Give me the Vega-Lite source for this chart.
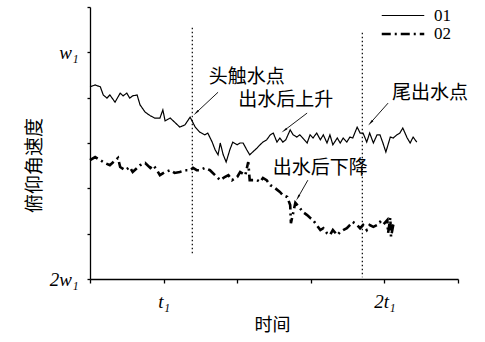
{
  "$schema": "https://vega.github.io/schema/vega-lite/v6.json",
  "width": 368,
  "height": 272,
  "autosize": "none",
  "padding": {"left": 90, "top": 7, "right": 27, "bottom": 63},
  "background": "white",
  "config": {
    "view": {"stroke": null},
    "axis": {"grid": false, "domainColor": "black", "tickColor": "black", "domainWidth": 1.3, "tickWidth": 1.3, "labelColor": "black", "titleColor": "black"}
  },
  "datasets": {
    "series": [
      {"x": 2.00, "y": 5.76, "series": "01"},
      {"x": 2.07, "y": 5.72, "series": "01"},
      {"x": 2.14, "y": 5.76, "series": "01"},
      {"x": 2.18, "y": 5.94, "series": "01"},
      {"x": 2.23, "y": 6.01, "series": "01"},
      {"x": 2.27, "y": 5.94, "series": "01"},
      {"x": 2.34, "y": 6.10, "series": "01"},
      {"x": 2.41, "y": 5.90, "series": "01"},
      {"x": 2.45, "y": 5.96, "series": "01"},
      {"x": 2.50, "y": 5.90, "series": "01"},
      {"x": 2.54, "y": 6.01, "series": "01"},
      {"x": 2.58, "y": 5.96, "series": "01"},
      {"x": 2.64, "y": 5.94, "series": "01"},
      {"x": 2.68, "y": 6.16, "series": "01"},
      {"x": 2.75, "y": 6.32, "series": "01"},
      {"x": 2.82, "y": 6.40, "series": "01"},
      {"x": 2.88, "y": 6.45, "series": "01"},
      {"x": 2.95, "y": 6.45, "series": "01"},
      {"x": 2.99, "y": 6.27, "series": "01"},
      {"x": 3.02, "y": 6.51, "series": "01"},
      {"x": 3.09, "y": 6.45, "series": "01"},
      {"x": 3.15, "y": 6.54, "series": "01"},
      {"x": 3.22, "y": 6.65, "series": "01"},
      {"x": 3.29, "y": 6.60, "series": "01"},
      {"x": 3.36, "y": 6.43, "series": "01"},
      {"x": 3.43, "y": 6.65, "series": "01"},
      {"x": 3.49, "y": 6.76, "series": "01"},
      {"x": 3.56, "y": 6.82, "series": "01"},
      {"x": 3.60, "y": 6.78, "series": "01"},
      {"x": 3.66, "y": 6.98, "series": "01"},
      {"x": 3.70, "y": 7.15, "series": "01"},
      {"x": 3.74, "y": 7.26, "series": "01"},
      {"x": 3.77, "y": 7.00, "series": "01"},
      {"x": 3.81, "y": 7.26, "series": "01"},
      {"x": 3.85, "y": 7.42, "series": "01"},
      {"x": 3.90, "y": 7.15, "series": "01"},
      {"x": 3.94, "y": 6.98, "series": "01"},
      {"x": 4.00, "y": 7.04, "series": "01"},
      {"x": 4.04, "y": 7.00, "series": "01"},
      {"x": 4.08, "y": 7.00, "series": "01"},
      {"x": 4.13, "y": 7.15, "series": "01"},
      {"x": 4.17, "y": 7.26, "series": "01"},
      {"x": 4.21, "y": 7.20, "series": "01"},
      {"x": 4.27, "y": 7.11, "series": "01"},
      {"x": 4.31, "y": 7.04, "series": "01"},
      {"x": 4.35, "y": 6.98, "series": "01"},
      {"x": 4.40, "y": 6.93, "series": "01"},
      {"x": 4.45, "y": 6.82, "series": "01"},
      {"x": 4.49, "y": 6.78, "series": "01"},
      {"x": 4.54, "y": 6.98, "series": "01"},
      {"x": 4.58, "y": 6.89, "series": "01"},
      {"x": 4.62, "y": 6.98, "series": "01"},
      {"x": 4.66, "y": 6.93, "series": "01"},
      {"x": 4.72, "y": 6.71, "series": "01"},
      {"x": 4.76, "y": 6.82, "series": "01"},
      {"x": 4.81, "y": 6.87, "series": "01"},
      {"x": 4.85, "y": 6.82, "series": "01"},
      {"x": 4.89, "y": 6.89, "series": "01"},
      {"x": 4.95, "y": 7.00, "series": "01"},
      {"x": 4.99, "y": 6.82, "series": "01"},
      {"x": 5.03, "y": 6.89, "series": "01"},
      {"x": 5.08, "y": 6.78, "series": "01"},
      {"x": 5.13, "y": 6.93, "series": "01"},
      {"x": 5.17, "y": 6.82, "series": "01"},
      {"x": 5.22, "y": 7.00, "series": "01"},
      {"x": 5.26, "y": 6.82, "series": "01"},
      {"x": 5.30, "y": 7.04, "series": "01"},
      {"x": 5.36, "y": 6.89, "series": "01"},
      {"x": 5.40, "y": 7.00, "series": "01"},
      {"x": 5.44, "y": 6.89, "series": "01"},
      {"x": 5.49, "y": 6.98, "series": "01"},
      {"x": 5.53, "y": 6.87, "series": "01"},
      {"x": 5.57, "y": 6.89, "series": "01"},
      {"x": 5.63, "y": 6.65, "series": "01"},
      {"x": 5.67, "y": 6.78, "series": "01"},
      {"x": 5.71, "y": 6.78, "series": "01"},
      {"x": 5.76, "y": 6.98, "series": "01"},
      {"x": 5.80, "y": 6.78, "series": "01"},
      {"x": 5.85, "y": 7.00, "series": "01"},
      {"x": 5.90, "y": 6.82, "series": "01"},
      {"x": 5.94, "y": 6.82, "series": "01"},
      {"x": 5.98, "y": 7.00, "series": "01"},
      {"x": 6.02, "y": 7.20, "series": "01"},
      {"x": 6.08, "y": 6.87, "series": "01"},
      {"x": 6.12, "y": 6.89, "series": "01"},
      {"x": 6.17, "y": 6.82, "series": "01"},
      {"x": 6.21, "y": 6.78, "series": "01"},
      {"x": 6.25, "y": 6.67, "series": "01"},
      {"x": 6.31, "y": 6.89, "series": "01"},
      {"x": 6.35, "y": 7.00, "series": "01"},
      {"x": 6.39, "y": 6.87, "series": "01"},
      {"x": 6.44, "y": 6.98, "series": "01"},
      {"x": 2.00, "y": 7.38, "series": "02"},
      {"x": 2.07, "y": 7.31, "series": "02"},
      {"x": 2.14, "y": 7.38, "series": "02"},
      {"x": 2.20, "y": 7.44, "series": "02"},
      {"x": 2.27, "y": 7.49, "series": "02"},
      {"x": 2.38, "y": 7.33, "series": "02"},
      {"x": 2.41, "y": 7.53, "series": "02"},
      {"x": 2.48, "y": 7.60, "series": "02"},
      {"x": 2.54, "y": 7.53, "series": "02"},
      {"x": 2.58, "y": 7.64, "series": "02"},
      {"x": 2.64, "y": 7.55, "series": "02"},
      {"x": 2.68, "y": 7.49, "series": "02"},
      {"x": 2.75, "y": 7.44, "series": "02"},
      {"x": 2.82, "y": 7.55, "series": "02"},
      {"x": 2.86, "y": 7.49, "series": "02"},
      {"x": 2.91, "y": 7.60, "series": "02"},
      {"x": 2.95, "y": 7.71, "series": "02"},
      {"x": 3.02, "y": 7.64, "series": "02"},
      {"x": 3.09, "y": 7.60, "series": "02"},
      {"x": 3.15, "y": 7.66, "series": "02"},
      {"x": 3.22, "y": 7.64, "series": "02"},
      {"x": 3.29, "y": 7.60, "series": "02"},
      {"x": 3.36, "y": 7.60, "series": "02"},
      {"x": 3.40, "y": 7.55, "series": "02"},
      {"x": 3.45, "y": 7.60, "series": "02"},
      {"x": 3.49, "y": 7.60, "series": "02"},
      {"x": 3.56, "y": 7.55, "series": "02"},
      {"x": 3.63, "y": 7.60, "series": "02"},
      {"x": 3.70, "y": 7.71, "series": "02"},
      {"x": 3.77, "y": 7.82, "series": "02"},
      {"x": 3.83, "y": 7.75, "series": "02"},
      {"x": 3.88, "y": 7.71, "series": "02"},
      {"x": 3.93, "y": 7.82, "series": "02"},
      {"x": 4.00, "y": 7.75, "series": "02"},
      {"x": 4.04, "y": 7.64, "series": "02"},
      {"x": 4.11, "y": 7.71, "series": "02"},
      {"x": 4.15, "y": 7.42, "series": "02"},
      {"x": 4.17, "y": 7.82, "series": "02"},
      {"x": 4.21, "y": 7.82, "series": "02"},
      {"x": 4.27, "y": 7.82, "series": "02"},
      {"x": 4.31, "y": 7.86, "series": "02"},
      {"x": 4.35, "y": 7.77, "series": "02"},
      {"x": 4.40, "y": 7.82, "series": "02"},
      {"x": 4.45, "y": 7.93, "series": "02"},
      {"x": 4.51, "y": 7.99, "series": "02"},
      {"x": 4.58, "y": 8.08, "series": "02"},
      {"x": 4.62, "y": 8.15, "series": "02"},
      {"x": 4.68, "y": 8.19, "series": "02"},
      {"x": 4.72, "y": 8.37, "series": "02"},
      {"x": 4.73, "y": 8.77, "series": "02"},
      {"x": 4.79, "y": 8.32, "series": "02"},
      {"x": 4.85, "y": 8.43, "series": "02"},
      {"x": 4.89, "y": 8.52, "series": "02"},
      {"x": 4.95, "y": 8.59, "series": "02"},
      {"x": 4.99, "y": 8.65, "series": "02"},
      {"x": 5.03, "y": 8.70, "series": "02"},
      {"x": 5.08, "y": 8.81, "series": "02"},
      {"x": 5.13, "y": 8.92, "series": "02"},
      {"x": 5.17, "y": 8.88, "series": "02"},
      {"x": 5.22, "y": 8.99, "series": "02"},
      {"x": 5.26, "y": 9.03, "series": "02"},
      {"x": 5.30, "y": 8.92, "series": "02"},
      {"x": 5.36, "y": 9.03, "series": "02"},
      {"x": 5.40, "y": 8.96, "series": "02"},
      {"x": 5.44, "y": 8.92, "series": "02"},
      {"x": 5.49, "y": 8.88, "series": "02"},
      {"x": 5.53, "y": 8.81, "series": "02"},
      {"x": 5.57, "y": 8.74, "series": "02"},
      {"x": 5.63, "y": 8.81, "series": "02"},
      {"x": 5.67, "y": 8.88, "series": "02"},
      {"x": 5.71, "y": 8.81, "series": "02"},
      {"x": 5.76, "y": 8.92, "series": "02"},
      {"x": 5.80, "y": 8.81, "series": "02"},
      {"x": 5.85, "y": 8.85, "series": "02"},
      {"x": 5.90, "y": 8.81, "series": "02"},
      {"x": 5.94, "y": 8.74, "series": "02"},
      {"x": 5.98, "y": 8.81, "series": "02"},
      {"x": 6.04, "y": 8.70, "series": "02"},
      {"x": 6.05, "y": 8.99, "series": "02"},
      {"x": 6.08, "y": 8.65, "series": "02"},
      {"x": 6.09, "y": 9.07, "series": "02"},
      {"x": 6.12, "y": 8.81, "series": "02"},
      {"x": 6.14, "y": 8.74, "series": "02"}
    ],
    "vlines": [
      {"x": 3.39, "y": 4.46, "y2": 9.48},
      {"x": 5.70, "y": 4.57, "y2": 9.96}
    ],
    "arrows": [
      {"x": 3.74, "y": 5.88, "x2": 3.45, "y2": 6.32, "angle": 226},
      {"x": 4.95, "y": 6.34, "x2": 4.65, "y2": 6.71, "angle": 232},
      {"x": 6.05, "y": 6.12, "x2": 5.82, "y2": 6.54, "angle": 222},
      {"x": 4.96, "y": 7.82, "x2": 4.83, "y2": 8.19, "angle": 210}
    ],
    "labels": [
      {"x": 4.13, "y": 5.54, "label": "头触水点"},
      {"x": 4.66, "y": 6.05, "label": "出水后上升"},
      {"x": 6.62, "y": 5.90, "label": "尾出水点"},
      {"x": 5.13, "y": 7.55, "label": "出水后下降"}
    ]
  },
  "encoding": {
    "x": {
      "field": "x", "type": "quantitative",
      "scale": {"domain": [2, 7], "nice": false, "zero": false},
      "axis": {
        "values": [2, 3, 4, 5, 6, 7],
        "labelExpr": "datum.value == 3 ? 't₁' : datum.value == 6 ? '2t₁' : ''",
        "labelFont": "Liberation Serif", "labelFontStyle": "italic", "labelFontSize": 19,
        "labelPadding": 9, "tickSize": 4,
        "title": "时间", "titleFont": "Noto Sans CJK SC", "titleFontSize": 18, "titleFontWeight": "normal",
        "titleX": 182, "titleY": 46, "titleBaseline": "middle", "titleAlign": "center"
      }
    },
    "y": {
      "field": "y", "type": "quantitative",
      "scale": {"domain": [4, 10], "nice": false, "zero": false, "reverse": true},
      "axis": {
        "values": [4, 5, 6, 7, 8, 9, 10],
        "labelExpr": "datum.value == 5 ? 'w₁' : datum.value == 10 ? '2w₁' : ''",
        "labelFont": "Liberation Serif", "labelFontStyle": "italic", "labelFontSize": 19,
        "labelPadding": 9, "tickSize": 3,
        "title": "俯仰角速度", "titleFont": "Noto Sans CJK SC", "titleFontSize": 19, "titleFontWeight": "normal",
        "titleX": -56, "titleY": 158, "titleAngle": -90, "titleBaseline": "middle", "titleAlign": "center"
      }
    }
  },
  "layer": [
    {
      "data": {"name": "series"},
      "mark": {"type": "line", "color": "black", "interpolate": "linear"},
      "encoding": {
        "detail": {"field": "series"},
        "strokeDash": {
          "field": "series", "type": "nominal",
          "scale": {"domain": ["01", "02"], "range": [[1, 0], [9, 4, 2, 4]]},
          "legend": {
            "orient": "none", "legendX": 303, "legendY": -1, "title": null,
            "symbolType": "M-2.5,0H2.5", "symbolSize": 289, "symbolStrokeColor": "black",
            "labelFont": "Liberation Serif", "labelFontSize": 17, "labelColor": "black",
            "rowPadding": 0, "padding": 0, "labelOffset": 21
          }
        },
        "strokeWidth": {
          "field": "series", "type": "nominal",
          "scale": {"domain": ["01", "02"], "range": [1.2, 2.6]},
          "legend": {
            "orient": "none", "legendX": 303, "legendY": -1, "title": null,
            "symbolType": "M-2.5,0H2.5", "symbolSize": 289, "symbolStrokeColor": "black",
            "labelFont": "Liberation Serif", "labelFontSize": 17, "labelColor": "black",
            "rowPadding": 0, "padding": 0, "labelOffset": 21
          }
        }
      }
    },
    {
      "data": {"name": "vlines"},
      "mark": {"type": "rule", "color": "black", "strokeWidth": 1.2, "strokeDash": [1.5, 2.5]},
      "encoding": {"y2": {"field": "y2"}}
    },
    {
      "data": {"name": "arrows"},
      "mark": {"type": "rule", "color": "black", "strokeWidth": 0.9},
      "encoding": {"x2": {"field": "x2"}, "y2": {"field": "y2"}}
    },
    {
      "data": {"name": "arrows"},
      "mark": {"type": "point", "shape": "wedge", "filled": true, "color": "black", "size": 60, "opacity": 1},
      "encoding": {
        "x": {"field": "x2", "type": "quantitative"},
        "y": {"field": "y2", "type": "quantitative"},
        "angle": {"field": "angle", "type": "quantitative", "scale": null}
      }
    },
    {
      "data": {"name": "labels"},
      "mark": {"type": "text", "font": "Noto Sans CJK SC", "fontSize": 19, "color": "black", "align": "center", "baseline": "middle"},
      "encoding": {"text": {"field": "label"}}
    }
  ]
}
